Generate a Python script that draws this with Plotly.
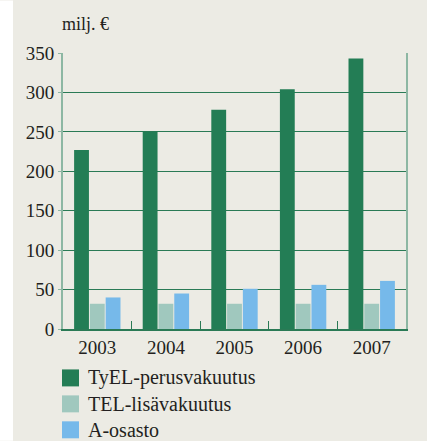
import plotly.graph_objects as go

years = ['2003', '2004', '2005', '2006', '2007']
tyel = [227, 250, 278, 304, 343]
tel = [32, 32, 32, 32, 32]
a_osasto = [40, 45, 51, 56, 61]
names = ['TyEL-perusvakuutus', 'TEL-lisävakuutus', 'A-osasto']
colors = ['#237d55', '#a0c8be', '#76b9ea']

W, H = 427, 441
L, R, T, B = 63, 21, 52.5, 112
plot_w = W - L - R
plot_h = H - T - B

serif = 'Liberation Serif'
ink = '#231f20'


def px(x):
    return (x - L) / plot_w


def py(y):
    return (H - B - y) / plot_h


fig = go.Figure()

for vals, nm, col in zip([tyel, tel, a_osasto], names, colors):
    fig.add_trace(go.Bar(x=years, y=vals, name=nm, marker=dict(color=col, line=dict(width=0))))

fig.update_layout(
    width=W, height=H,
    margin=dict(l=L, r=R, t=T, b=B, pad=0, autoexpand=False),
    paper_bgcolor='#ecebe4', plot_bgcolor='#ecebe4',
    barmode='group', bargap=0.31, bargroupgap=0.06,
    font=dict(family=serif, size=19, color=ink),
    showlegend=False,
)
fig.update_xaxes(type='category', showline=True, linecolor='#2a7a55', linewidth=1.5,
                 ticks='inside', tickson='boundaries', ticklen=8, tickcolor='#2a7a55',
                 tickwidth=1, showgrid=False, zeroline=False,
                 tickfont=dict(family=serif, size=19, color=ink))
fig.update_yaxes(range=[0, 350], dtick=50, showline=True, mirror=True, linecolor='#8db7a3',
                 linewidth=2, gridcolor='#2a7a55', gridwidth=1, ticks='outside', ticklen=3,
                 tickcolor='#8db7a3', zeroline=False,
                 tickfont=dict(family=serif, size=19, color=ink))

# white strip on the left edge
fig.add_shape(type='rect', xref='paper', yref='paper', x0=px(0), x1=px(13),
              y0=py(H), y1=py(0), fillcolor='white', line=dict(width=0), layer='below')

fig.add_annotation(text='milj. €', xref='paper', yref='paper', x=px(60), xanchor='left',
                   y=py(23), yanchor='middle', showarrow=False,
                   font=dict(family=serif, size=18, color=ink))

# legend drawn by hand: swatch + label per series
row_y = [378, 404, 430]
for nm, col, yc in zip(names, colors, row_y):
    fig.add_shape(type='rect', xref='paper', yref='paper', x0=px(62), x1=px(79),
                  y0=py(yc + 8.5), y1=py(yc - 8.5), fillcolor=col, line=dict(width=0))
    fig.add_annotation(text=nm, xref='paper', yref='paper', x=px(86), xanchor='left',
                       y=py(yc), yanchor='middle', showarrow=False,
                       font=dict(family=serif, size=20, color=ink))

fig.write_html('out.html', config={'displayModeBar': False},
               post_script="document.body.style.margin='0';")
